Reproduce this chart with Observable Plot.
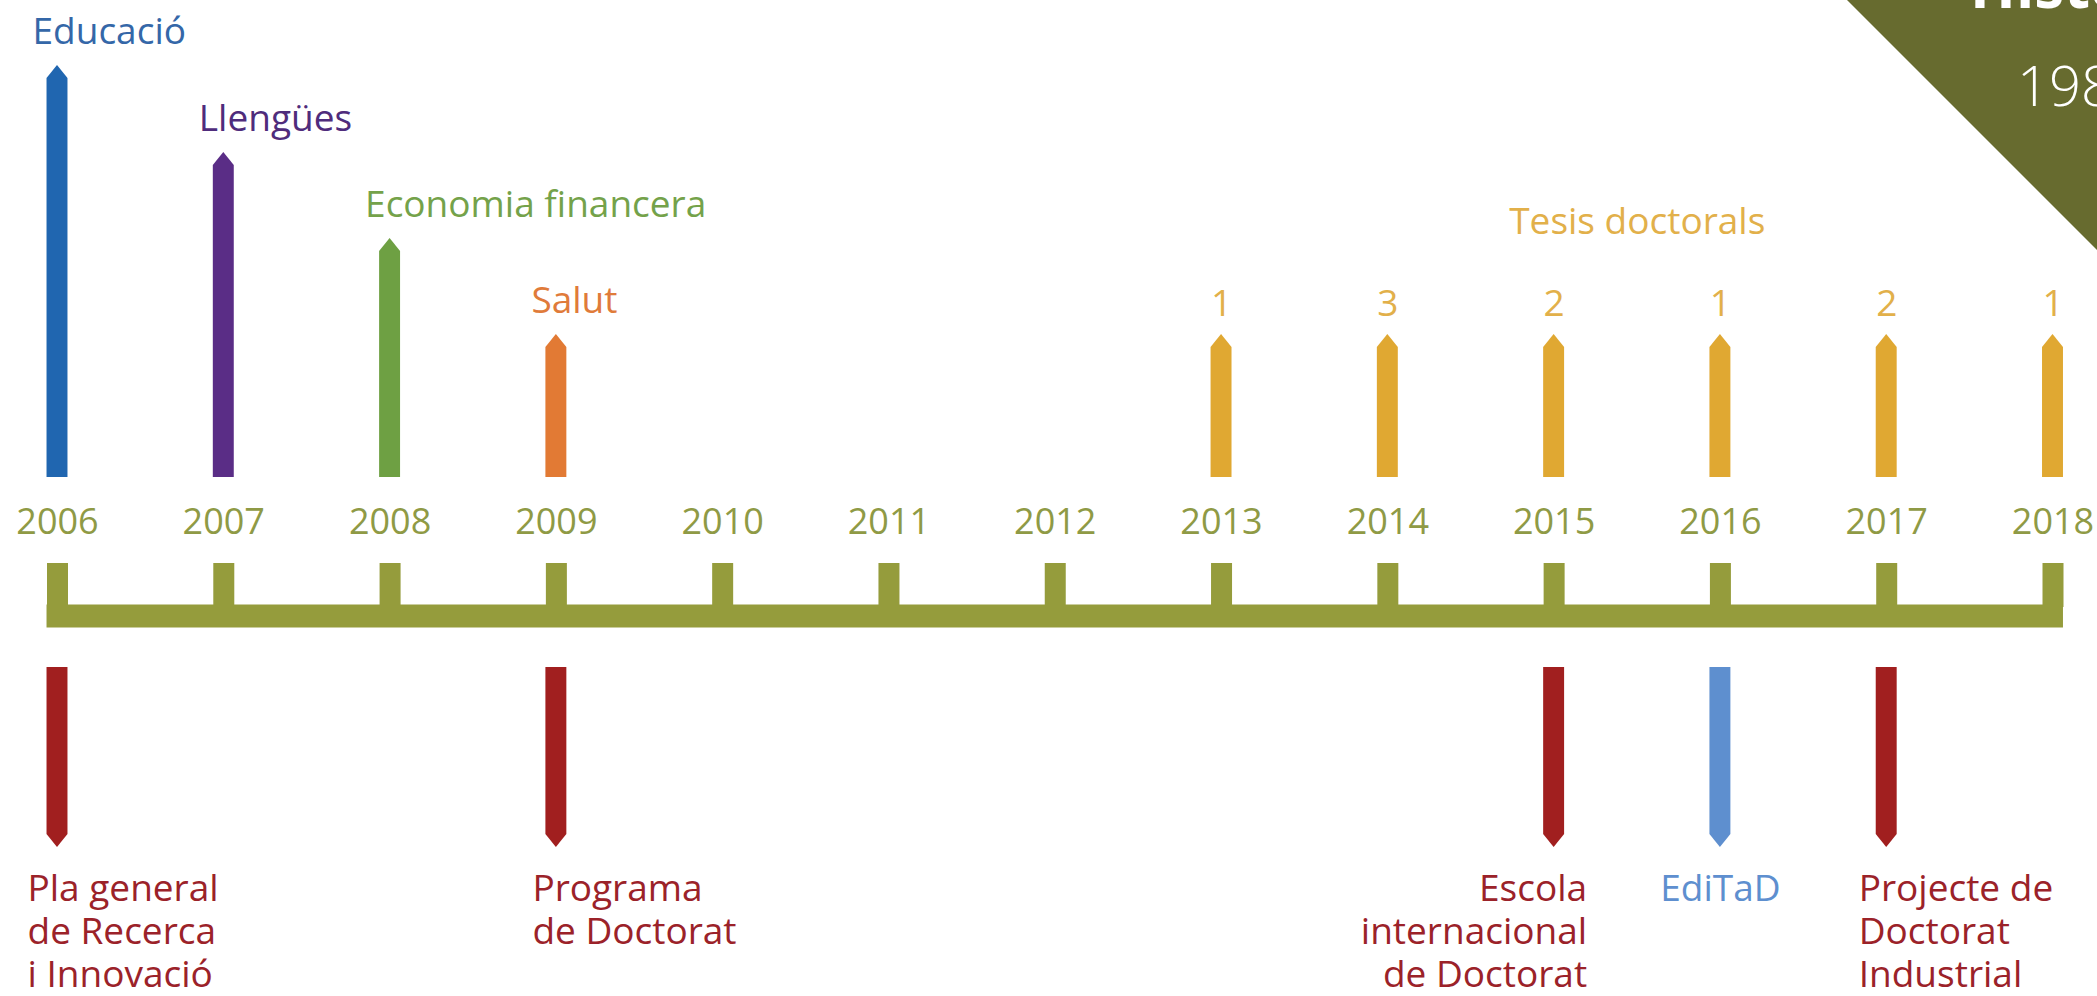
<!DOCTYPE html>
<html><head><meta charset="utf-8">
<script src="https://cdn.jsdelivr.net/npm/d3@7"></script>
<script src="https://cdn.jsdelivr.net/npm/@observablehq/plot@0.6"></script>
<style>
html,body{margin:0;padding:0;background:#fff;overflow:hidden;width:2097px;height:996px;}
#wrap{position:relative;width:2097px;height:996px;overflow:hidden;}
#chart{position:absolute;left:0;top:0;}
#corner{position:absolute;left:0;top:0;pointer-events:none;}
</style></head>
<body><div id="wrap"><div id="chart"></div>
<svg id="corner" width="2097" height="996">
  <polygon points="1847,0 2097,0 2097,250" fill="#676b2f"></polygon>
  <text x="1970" y="8" fill="#fff" font-family="Open Sans" font-weight="700" font-size="60">Història</text>
  <text x="2017" y="106" fill="#fff" font-family="Open Sans" font-weight="300" font-size="56">1989-2018</text>
</svg>
</div>
<script>
// ---- data ----
const years = [2006, 2007, 2008, 2009, 2010, 2011, 2012, 2013, 2014, 2015, 2016, 2017, 2018];

const topCategories = ["Educació", "Llengües", "Economia financera", "Salut"];
const topYears      = [2006, 2007, 2008, 2009];
const topHeights    = [4.12, 3.25, 2.39, 1.43];
const topColors     = ["#2066b0", "#5a2d86", "#6ea043", "#e27a34"];
const topTextColors = ["#3467a8", "#4f2c7c", "#74a24a", "#e07b3a"];

const thesisTitle  = "Tesis doctorals";
const thesisYears  = [2013, 2014, 2015, 2016, 2017, 2018];
const thesisCounts = [1, 3, 2, 1, 2, 1];
const thesisHeight = 1.43;

const eventYears  = [2006, 2009, 2015, 2016, 2017];
const eventLabels = ["Pla general\nde Recerca\ni Innovació", "Programa\nde Doctorat", "Escola\ninternacional\nde Doctorat", "EdiTaD", "Projecte de\nDoctorat\nIndustrial"];
const eventColors = ["#a11f1f", "#a11f1f", "#a11f1f", "#5e8fcf", "#a11f1f"];
const eventLength = 1.80;

// ---- layout / style constants ----
const HW = 0.063, TIP = 0.13;
const AXIS_COLOR = "#959c3c", YEAR_COLOR = "#8f9a45";
const THESIS_COLOR = "#e0a832", THESIS_TEXT = "#e2b04a";
const EVENT_BASE = -1.90;
const eventAlign = {"Pla general\nde Recerca\ni Innovació": ["start", -30], "Programa\nde Doctorat": ["start", -24], "Escola\ninternacional\nde Doctorat": ["end", 33], "EdiTaD": ["middle", 0], "Projecte de\nDoctorat\nIndustrial": ["start", -28]};

function arrow(id, x, base, end, color) {
  const dir = Math.sign(end - base);
  const sh = end - dir * TIP;
  return [
    {id, x: x - HW, y1: base, y2: sh, color},
    {id, x: x,      y1: base, y2: end, color},
    {id, x: x + HW, y1: base, y2: sh, color}
  ];
}

const arrows = [];
topCategories.forEach((c, i) => arrows.push(...arrow("t" + i, topYears[i], 0, topHeights[i], topColors[i])));
thesisYears.forEach((y, i) => arrows.push(...arrow("th" + i, y, 0, thesisHeight, THESIS_COLOR)));
eventYears.forEach((y, i) => arrows.push(...arrow("e" + i, y, EVENT_BASE, EVENT_BASE - eventLength, eventColors[i])));

const topTable = topCategories.map((c, i) => ({c, x: topYears[i], h: topHeights[i], color: topTextColors[i]}));
const thesisTable = thesisYears.map((y, i) => ({x: y, n: thesisCounts[i]}));
const eventTable = eventYears.map((y, i) => ({x: y, label: eventLabels[i], color: eventColors[i] === "#a11f1f" ? "#9b2229" : "#5e8fcf"}));

const font = "Open Sans";
const FW = 500;
const marks = [
  Plot.areaY(arrows, {x: "x", y1: "y1", y2: "y2", z: "id", fill: "color"}),
  // axis
  Plot.ruleX(years, {x: d => d, y1: -0.86, y2: -1.30, stroke: AXIS_COLOR, strokeWidth: 21}),
  Plot.ruleY([-1.385], {x1: 2006 - HW, x2: 2018 + HW, stroke: AXIS_COLOR, strokeWidth: 23}),
  Plot.text(years, {x: d => d, y: -0.56, text: d => String(d), fill: YEAR_COLOR, fontSize: 36, fontWeight: FW, lineAnchor: "bottom", fontFamily: font}),
  // top labels
  Plot.text(topTable, {x: "x", y: "h", text: "c", fill: "color", textAnchor: "start", dx: -25, dy: -22, fontSize: 37, fontWeight: FW, lineAnchor: "bottom", fontFamily: font}),
  Plot.text(thesisTable, {x: "x", y: thesisHeight, text: d => String(d.n), fill: THESIS_TEXT, dy: -19, fontSize: 37, fontWeight: FW, lineAnchor: "bottom", fontFamily: font}),
  Plot.text([thesisTitle], {x: d3.mean(thesisYears), y: thesisHeight, text: d => d, fill: THESIS_TEXT, dy: -101, fontSize: 37, fontWeight: FW, lineAnchor: "bottom", fontFamily: font}),
  // event labels
  ...eventTable.map(d => Plot.text([d], {x: "x", y: EVENT_BASE - eventLength, text: "label", fill: "color", textAnchor: eventAlign[d.label][0], dx: eventAlign[d.label][1], dy: 23, fontSize: 37, fontWeight: FW, lineAnchor: "top", lineHeight: 1.16, fontFamily: font}))
];

const chart = Plot.plot({
  width: 2097, height: 996,
  marginLeft: 57, marginRight: 44.5, marginTop: 0, marginBottom: 0,
  x: {domain: [2006, 2018], axis: null},
  y: {domain: [-5.19, 4.77], axis: null},
  color: {type: "identity"},
  style: {background: "transparent", fontFamily: font},
  marks
});
document.getElementById("chart").appendChild(chart);
</script>
</body></html>
